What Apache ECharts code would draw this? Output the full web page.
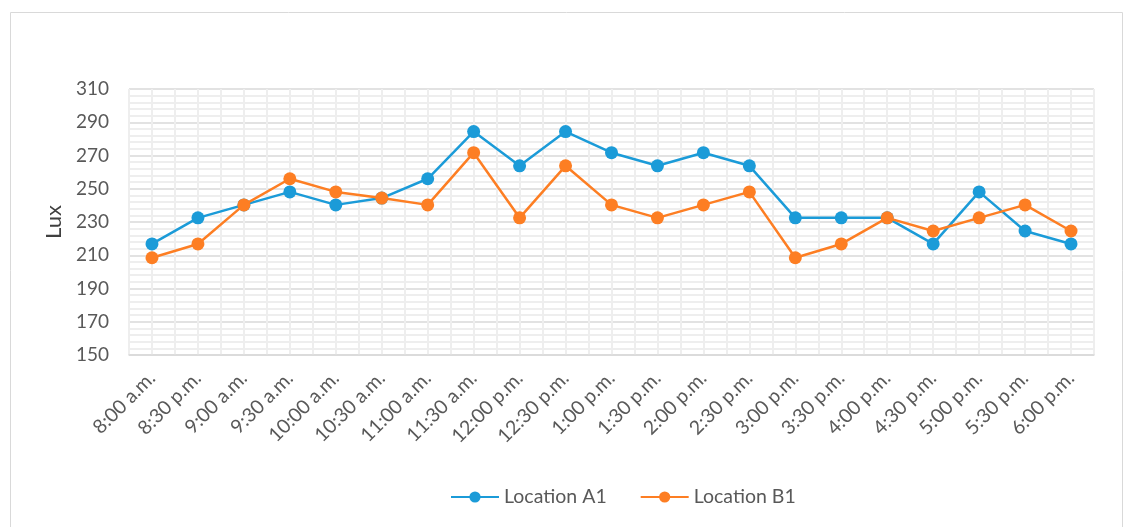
<!DOCTYPE html>
<html>
<head>
<meta charset="utf-8">
<script src="https://cdn.jsdelivr.net/npm/echarts@6/dist/echarts.min.js"></script>
<style>html,body{margin:0;padding:0;background:#fff}#c{width:1128px;height:527px}</style>
</head>
<body>
<div id="c"></div>
<script>
const categories = ['8:00 a.m.','8:30 p.m.','9:00 a.m.','9:30 a.m.','10:00 a.m.','10:30 a.m.','11:00 a.m.','11:30 a.m.','12:00 p.m.','12:30 p.m.','1:00 p.m.','1:30 p.m.','2:00 p.m.','2:30 p.m.','3:00 p.m.','3:30 p.m.','4:00 p.m.','4:30 p.m.','5:00 p.m.','5:30 p.m.','6:00 p.m.'];
const locationA1 = [216.8,232.5,240.3,248.1,240.3,244.4,256,284.4,263.8,284.4,271.7,263.8,271.7,263.8,232.5,232.5,232.5,216.8,248.1,224.6,216.8];
const locationB1 = [208.5,216.8,240.3,256,248.1,244.4,240.3,271.7,232.5,263.8,240.3,232.5,240.3,248.1,208.5,216.8,232.5,224.6,232.5,240.3,224.6];
const yMin = 150, yMax = 310, yStep = 20;

const font = 'Lato, "Open Sans", sans-serif';
const chart = echarts.init(document.getElementById('c'));
chart.setOption({
  animation: false,
  textStyle: { fontFamily: font },
  graphic: [{
    type: 'rect', left: 8, top: 10, silent: true,
    shape: { width: 1112, height: 530 },
    style: { fill: 'none', stroke: '#d9d9d9', lineWidth: 1 }
  }],
  grid: { left: 129, right: 34, top: 89, bottom: 172 },
  legend: {
    left: 445, top: 482,
    itemWidth: 48, itemHeight: 14, itemGap: 33,
    textStyle: { color: '#595959', fontSize: 19.5, fontFamily: font },
    data: ['Location A1', 'Location B1']
  },
  xAxis: [{
    type: 'category', data: categories, boundaryGap: true,
    axisLine: { show: true, lineStyle: { color: '#d9d9d9', width: 1.5 } },
    axisTick: { show: false },
    splitLine: { show: false },
    axisLabel: { rotate: 45, color: '#595959', fontSize: 19.5, margin: 20, interval: 0, fontFamily: font }
  }, {
    type: 'value', min: 0, max: 21, interval: 0.5, position: 'bottom',
    axisLine: { show: false }, axisTick: { show: false }, axisLabel: { show: false },
    splitLine: { show: true, lineStyle: { color: '#eeeeee', width: 2 } }
  }],
  yAxis: {
    type: 'value', min: yMin, max: yMax, interval: yStep,
    name: 'Lux', nameLocation: 'middle', nameGap: 63, nameRotate: 90,
    nameTextStyle: { color: '#404040', fontSize: 22, fontFamily: font },
    axisLine: { show: false }, axisTick: { show: false },
    axisLabel: { color: '#595959', fontSize: 19, margin: 20, fontFamily: font },
    splitLine: { show: true, lineStyle: { color: '#d9d9d9', width: 1.5 } },
    minorTick: { show: false, splitNumber: 5 },
    minorSplitLine: { show: true, lineStyle: { color: '#eeeeee', width: 2 } }
  },
  series: [{
    name: 'Location A1', type: 'line', data: locationA1, xAxisIndex: 0,
    symbol: 'circle', symbolSize: 13, z: 3,
    lineStyle: { color: '#1b9bd8', width: 2.5 },
    itemStyle: { color: '#1b9bd8' }
  }, {
    name: 'Location B1', type: 'line', data: locationB1, xAxisIndex: 0,
    symbol: 'circle', symbolSize: 13, z: 4,
    lineStyle: { color: '#fd7e23', width: 2.5 },
    itemStyle: { color: '#fd7e23' }
  }]
});
</script>
</body>
</html>
